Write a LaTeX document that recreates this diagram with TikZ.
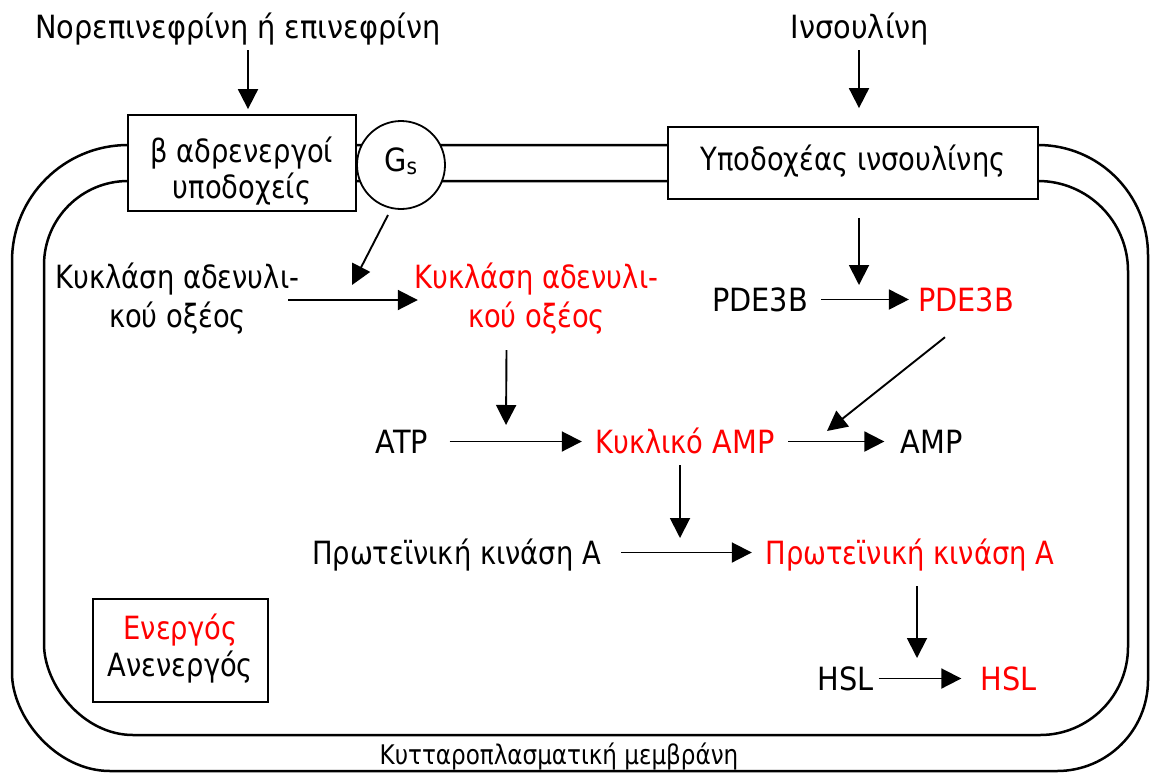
\documentclass[tikz,border=0pt]{standalone}
\usepackage{fontspec}
\setmainfont{DejaVu Sans Condensed}
% slightly narrower cut for the Greek labels
\newfontfamily\grk{DejaVu Sans Condensed}[FakeStretch=0.95]
\usetikzlibrary{arrows.meta,calc}
\definecolor{actred}{RGB}{255,0,0}
% centred multi-line text whose baseline is that of its first line
\newcommand{\lines}[1]{\begin{tabular}[t]{@{}c@{}}#1\end{tabular}}

\begin{document}
\begin{tikzpicture}[x=1pt,y=-1pt,
  every node/.style={inner sep=0pt, font=\fontsize{32}{38}\selectfont},
  gr/.style={font=\grk\fontsize{32}{38}\selectfont},
  lbl/.style={anchor=base, text height=23pt, text depth=0pt},
  twoline/.style={anchor=base, text height=23pt, text depth=47pt,
                  font=\grk\fontsize{32}{39}\selectfont},
  act/.style={text=actred},
  arr/.style={-{Triangle[length=20pt,width=20pt]}, line width=1.9pt},
  memb/.style={line width=2.5pt},
  box/.style={draw, line width=1.8pt, fill=white, rectangle}
]
\useasboundingbox (0,0) rectangle (1150,774);

% cell membrane: outer and inner leaflets
\draw[memb] (128,145) -- (1038,145)
  .. controls (1098.8,145) and (1148,194.2) .. (1148,255) -- (1148,680)
  .. controls (1148,730.3) and (1107.3,771) .. (1057,771) -- (110,771)
  .. controls (55.9,771) and (12,716.9) .. (12,673) -- (12,261)
  .. controls (12,196.9) and (63.9,145) .. (128,145);
\draw[memb] (128,181) -- (1038,181)
  .. controls (1087.7,181) and (1128,221.3) .. (1128,271) -- (1128,647)
  .. controls (1128,695.6) and (1088.6,735) .. (1040,735) -- (133,735)
  .. controls (82.7,735) and (44,684.7) .. (44,644) -- (44,265)
  .. controls (44,218.6) and (81.6,181) .. (128,181);

% membrane receptors and G protein
\node[box, minimum width=228pt, minimum height=96pt, text height=40pt, text depth=42pt,
      font=\grk\fontsize{32}{35}\selectfont] (brec) at (242,163) {\lines{β αδρενεργοί\\υποδοχείς}};
\node[draw, circle, line width=1.8pt, fill=white, minimum size=88pt,
      text height=24pt, text depth=12pt] (gs) at (401,165) {G\textsubscript{s}};
\node[box, gr, minimum width=370pt, minimum height=72pt, text height=28pt, text depth=14pt]
      (irec) at (853,163) {Υποδοχέας ινσουλίνης};

% hormones
\node[lbl, minimum width=399pt] (norepi) at (238,38) {Νορεπινεφρίνη ή επινεφρίνη};
\node[lbl, minimum width=136pt] (insulin) at (860,38) {Ινσουλίνη};

% signalling cascade
\node[twoline, minimum width=241pt] (acb) at (177.5,288) {\lines{Κυκλάση αδενυλι-\\κού οξέος}};
\node[twoline, act, minimum width=247pt] (acr) at (536.5,288) {\lines{Κυκλάση αδενυλι-\\κού οξέος}};
\node[lbl, minimum width=94pt] (pde) at (760,311) {PDE3B};
\node[lbl, act, minimum width=94pt] (pder) at (966,311) {PDE3B};
\node[lbl, minimum width=55pt] (atp) at (402,453) {ATP};
\node[lbl, act, minimum width=180pt] (camp) at (685,453) {{\grk Κυκλικό} AMP};
\node[lbl, minimum width=61pt] (amp) at (931.5,453) {AMP};
\node[lbl, gr, minimum width=287pt] (pka) at (456.5,564) {Πρωτεϊνική κινάση A};
\node[lbl, gr, act, minimum width=290pt] (pkar) at (910,564) {Πρωτεϊνική κινάση A};
\node[lbl, minimum width=55pt] (hsl) at (845.5,690) {HSL};
\node[lbl, act, minimum width=53pt] (hslr) at (1008.5,690) {HSL};

% legend
\node[box, minimum width=175pt, minimum height=103pt, text height=30pt, text depth=53pt,
      font=\grk\fontsize{32}{37}\selectfont] (legend) at (180.5,650.5)
      {\lines{\textcolor{actred}{Ενεργός}\\Ανενεργός}};

% membrane label
\node[anchor=base, font=\grk\fontsize{27}{32}\selectfont] (mlabel) at (559,764)
      {Κυτταροπλασματική μεμβράνη};

% points where regulatory arrows meet reaction arrows
\coordinate (t3) at (859,285);
\coordinate (t4) at (352,285);
\coordinate (t7) at (506,425);
\coordinate (t9) at (827,431);
\coordinate (t11) at (680,538);
\coordinate (t13) at (917,658);

% arrows
\draw[arr] ($(norepi.base)+(10,12)$) -- ($(brec.north)+(6,-5)$);
\draw[arr] ($(insulin.base)+(-1,12)$) -- ($(irec.north)+(6,-18)$);
\draw[arr] ($(irec.south)+(6,18)$) -- (t3);
\draw[arr] ($(gs.center)+(-13,50)$) -- (t4);
\draw[arr] ([xshift=-11pt]acb.east) -- ([xshift=5pt]acr.west);
\draw[arr, shorten <=13pt, shorten >=9pt] (pde.east) -- (pder.west);
\draw[arr] ($(acr.south)+(-30,15)$) -- (t7);
\draw[arr, shorten <=20pt, shorten >=13pt] (atp.east) -- (camp.west);
\draw[arr] ($(pder.south)+(-21,26)$) -- (t9);
\draw[arr, shorten <=13pt, shorten >=16pt] (camp.east) -- (amp.west);
\draw[arr] ($(camp.south)+(-5,12)$) -- (t11);
\draw[arr, shorten <=20pt, shorten >=13pt] (pka.east) -- (pkar.west);
\draw[arr] ($(pkar.south)+(7,22)$) -- (t13);
\draw[arr, shorten <=5pt, shorten >=19pt] (hsl.east) -- (hslr.west);
\end{tikzpicture}
\end{document}
